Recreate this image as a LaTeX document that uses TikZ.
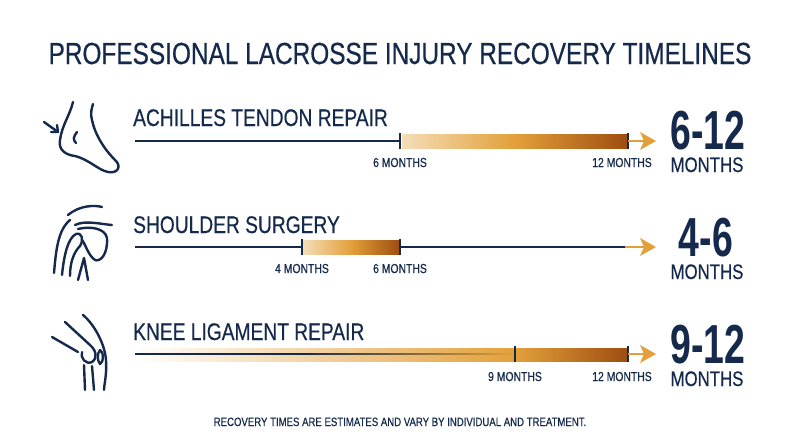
\documentclass[tikz,border=0pt]{standalone}
\usepackage{fontspec}
\setmainfont{Liberation Sans}[FakeStretch=0.8,FakeBold=0.5,BoldFeatures={FakeStretch=0.8}]
\newfontfamily\bigfnt{Liberation Sans}[FakeStretch=0.68,UprightFeatures={FakeBold=0.3},BoldFeatures={FakeStretch=0.68}]
\begin{document}
\definecolor{navy}{HTML}{14294B}
\definecolor{lgt}{HTML}{F4DDB8}
\definecolor{org}{HTML}{E3A03A}
\definecolor{brn}{HTML}{9E4E10}
\begin{tikzpicture}[x=1pt,y=-1pt,
  every node/.style={text=navy,inner sep=0pt},
  lab/.style={font=\fontsize{24}{24}\selectfont,anchor=base west},
  mo/.style={font=\fontsize{13}{13}\selectfont,anchor=base},
  big/.style={font=\fontsize{55}{55}\bigfnt\bfseries,anchor=base},
  bigm/.style={font=\fontsize{21}{21}\selectfont,anchor=base},
  ln/.style={navy,line width=2pt},
  tk/.style={navy,line width=2pt},
  arr/.style={org,line width=2.5pt},
  icon/.style={navy,line width=2.4pt,line cap=round,line join=round}]
\useasboundingbox (0,0) rectangle (800,447);
\node (title) [font=\fontsize{30.5}{30}\selectfont,anchor=base] at (400,64) {PROFESSIONAL LACROSSE INJURY RECOVERY TIMELINES};
% Row 1
\node (l1) [lab] at (133,126) {ACHILLES TENDON REPAIR};
\coordinate (a0) at (135,141); \coordinate (a1) at (400,141); \coordinate (a2) at (628,141); \coordinate (a3) at (656,141);
\shade[left color=lgt,right color=brn,middle color=org] (402,134) rectangle (627,148);
\draw[ln] (a0) -- (a1);
\draw[tk] (400,133) -- (400,149); \draw[tk] (628,133) -- (628,149);
\draw[arr] (a2) -- (645,141);
\fill[org] (a3) -- (640,132) -- (644,141) -- (640,150) -- cycle;
\node (m1a) [mo] at (400,167) {6 MONTHS};
\node (m1b) [mo] at (622,167) {12 MONTHS};
\node (b1) [big] at (708,149) {6-12};
\node (bm1) [bigm] at (707,172) {MONTHS};
% Row 2
\node (l2) [lab] at (133,233) {SHOULDER SURGERY};
\coordinate (s0) at (135,247); \coordinate (s1) at (302,247); \coordinate (s2) at (400,247); \coordinate (s3) at (625,247); \coordinate (s4) at (656,247);
\shade[left color=lgt,right color=brn,middle color=org] (303,240) rectangle (399,254);
\draw[ln] (s0) -- (s1); \draw[ln] (s2) -- (s3);
\draw[tk] (302,239) -- (302,255); \draw[tk] (400,239) -- (400,255);
\draw[arr] (s3) -- (645,247);
\fill[org] (s4) -- (640,238) -- (644,247) -- (640,256) -- cycle;
\node (m2a) [mo] at (302,273) {4 MONTHS};
\node (m2b) [mo] at (400,273) {6 MONTHS};
\node (b2) [big] at (706,256) {4-6};
\node (bm2) [bigm] at (707,279) {MONTHS};
% Row 3
\node (l3) [lab] at (133,340) {KNEE LIGAMENT REPAIR};
\coordinate (k0) at (135,354); \coordinate (k1) at (515,354); \coordinate (k2) at (628,354); \coordinate (k3) at (656,354);
\shade[left color=white,right color=org] (135,348) rectangle (515,361);
\shade[left color=org,right color=brn] (515,348) rectangle (627,361);
\draw[navy,line width=1.5pt] (k0) -- (300,354);
\shade[left color=navy,right color=org] (300,353.2) rectangle (515,354.8);
\draw[tk] (515,346) -- (515,362); \draw[tk] (628,346) -- (628,362);
\draw[arr] (k2) -- (645,354);
\fill[org] (k3) -- (640,345) -- (644,354) -- (640,363) -- cycle;
\node (m3a) [mo] at (515,381) {9 MONTHS};
\node (m3b) [mo] at (622,381) {12 MONTHS};
\node (b3) [big] at (708,363) {9-12};
\node (bm3) [bigm] at (707,386) {MONTHS};
% footer
\node (ft) [font=\fontsize{12}{12}\selectfont,anchor=base] at (400,426) {RECOVERY TIMES ARE ESTIMATES AND VARY BY INDIVIDUAL AND TREATMENT.};
% foot icon
\draw[icon] (73,102) .. controls (70,115) and (62,125) .. (60,140) .. controls (58,150) and (66,155) .. (75,156) .. controls (90,160) and (98,170) .. (108,172) .. controls (118,174) and (122,166) .. (115,160) .. controls (105,150) and (95,135) .. (92,120) .. controls (90,112) and (92,108) .. (93,104);
\draw[icon] (77,132) .. controls (73,137) and (73,140) .. (76,143);
\draw[icon] (44,122) -- (58,132); \draw[icon] (51,132) -- (58,132) -- (57,125);
% shoulder icon
\draw[icon] (68,215) .. controls (80,205) and (95,205) .. (102,207);
\draw[icon] (75,225) .. controls (85,220) and (100,224) .. (112,225);
\draw[icon] (54,273) .. controls (56,250) and (58,230) .. (70,220);
\draw[icon] (62,275) .. controls (64,255) and (68,238) .. (76,234) .. controls (82,232) and (84,240) .. (80,246);
\draw[icon] (70,276) .. controls (70,262) and (74,252) .. (80,246);
\draw[icon] (78,229) .. controls (90,226) and (105,228) .. (107,238) .. controls (108,255) and (100,262) .. (95,260) .. controls (88,255) and (86,245) .. (82,240);
\draw[icon] (78,280) -- (84,258) -- (88,280);
% knee icon
\draw[icon] (83,315) .. controls (95,325) and (105,345) .. (106,360) .. controls (107,375) and (104,385) .. (104,390);
\draw[icon] (65,322) -- (90,345) .. controls (96,350) and (98,358) .. (92,362) .. controls (86,365) and (80,358) .. (82,352);
\draw[icon] (52,337) -- (78,352);
\draw[icon] (84,365) -- (85,390); \draw[icon] (92,366) -- (94,390);
\draw[icon] (100,350) .. controls (104,352) and (104,362) .. (100,364) .. controls (97,360) and (97,354) .. (100,350);
\end{tikzpicture}
\end{document}
